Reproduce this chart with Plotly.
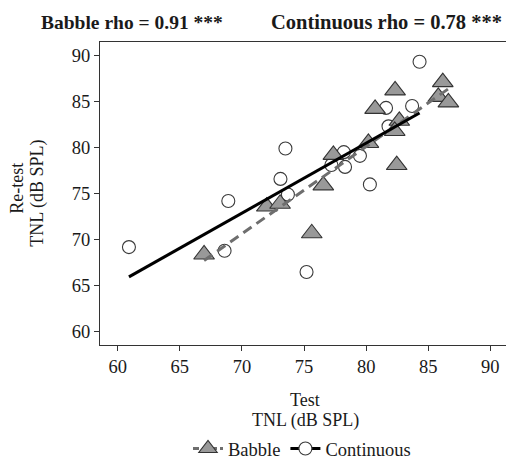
import numpy as np
import plotly.graph_objects as go

# ---- data ----
babble_test = [66.95, 72.0, 73.07, 75.62, 76.55, 77.36, 80.18, 80.72, 82.33, 82.67, 82.30, 82.46, 86.17, 85.81, 86.62]
babble_retest = [68.4, 73.6, 73.9, 70.7, 75.9, 79.2, 80.5, 84.2, 86.2, 82.9, 81.8, 78.1, 87.1, 85.5, 84.9]

cont_test = [60.9, 68.9, 68.6, 73.5, 73.1, 73.7, 75.2, 77.2, 78.2, 78.3, 79.5, 80.3, 81.6, 81.8, 83.7, 84.3]
cont_retest = [69.2, 74.2, 68.8, 79.9, 76.6, 74.9, 66.5, 78.1, 79.5, 77.9, 79.1, 76.0, 84.3, 82.3, 84.5, 89.3]

tick_vals = [60, 65, 70, 75, 80, 85, 90]
title_babble = "Babble rho = 0.91 ***"
title_cont = "Continuous rho = 0.78 ***"

FONT = "Liberation Serif"
TXT = "#1a1a1a"
AX = "#333333"

def fit_line(x, y):
    x = np.asarray(x, float); y = np.asarray(y, float)
    m, b = np.polyfit(x, y, 1)
    xs = np.array([x.min(), x.max()])
    return xs, m * xs + b

fig = go.Figure()

# points
fig.add_trace(go.Scatter(
    x=cont_test, y=cont_retest, mode="markers", showlegend=False,
    marker=dict(symbol="circle", size=13, color="white", line=dict(color="#3a3a3a", width=1.1))))
fig.add_trace(go.Scatter(
    x=babble_test, y=babble_retest, mode="markers", showlegend=False,
    marker=dict(symbol="triangle-up", size=18, color="#999999", line=dict(color="#333333", width=1.1))))

# regression lines
bx, by = fit_line(babble_test, babble_retest)
cx, cy = fit_line(cont_test, cont_retest)
fig.add_trace(go.Scatter(x=bx, y=by, mode="lines", showlegend=False,
                         line=dict(color="#6e6e6e", width=3, dash="10px,6px")))
fig.add_trace(go.Scatter(x=cx, y=cy, mode="lines", showlegend=False,
                         line=dict(color="black", width=3)))

# legend entries
fig.add_trace(go.Scatter(x=[None], y=[None], mode="lines+markers", name="Babble",
                         line=dict(color="#6e6e6e", width=3, dash="6px,3px"),
                         marker=dict(symbol="triangle-up", size=18, color="#999999",
                                     line=dict(color="#333333", width=1.1))))
fig.add_trace(go.Scatter(x=[None], y=[None], mode="lines+markers", name="Continuous",
                         line=dict(color="black", width=3),
                         marker=dict(symbol="circle", size=13, color="white",
                                     line=dict(color="#3a3a3a", width=1.1))))

axis_common = dict(
    tickvals=tick_vals, ticks="outside", ticklen=5, tickwidth=1.2, tickcolor=AX,
    showline=True, linecolor=AX, linewidth=1.3, showgrid=False, zeroline=False,
    tickfont=dict(family=FONT, size=18.5, color=TXT),
)
fig.update_xaxes(range=[58.57, 91.26], mirror=True, **axis_common)
fig.update_yaxes(range=[58.58, 91.45], **axis_common)

ann = []
ann.append(dict(text="<b>" + title_babble + "</b>", xref="paper", yref="paper",
                x=(39 - 100) / 406, y=1 + (42 - 22) / 306, xanchor="left", yanchor="middle",
                showarrow=False, font=dict(family=FONT, size=19.5, color=TXT)))
ann.append(dict(text="<b>" + title_cont + "</b>", xref="paper", yref="paper",
                x=(269 - 100) / 406, y=1 + (42 - 22) / 306, xanchor="left", yanchor="middle",
                showarrow=False, font=dict(family=FONT, size=20.5, color=TXT)))
ann.append(dict(text="Test", xref="paper", yref="paper", x=(305 - 100) / 406,
                y=(347.7 - 403) / 306, xanchor="center", yanchor="middle", showarrow=False,
                font=dict(family=FONT, size=18, color=TXT)))
ann.append(dict(text="TNL (dB SPL)", xref="paper", yref="paper", x=(305 - 100) / 406,
                y=(347.7 - 424) / 306, xanchor="center", yanchor="middle", showarrow=False,
                font=dict(family=FONT, size=18, color=TXT)))
ann.append(dict(text="Re-test", xref="paper", yref="paper", x=(17 - 100) / 406,
                y=(347.7 - 190) / 306, xanchor="center", yanchor="middle", showarrow=False,
                textangle=-90, font=dict(family=FONT, size=18, color=TXT)))
ann.append(dict(text="TNL (dB SPL)", xref="paper", yref="paper", x=(38 - 100) / 406,
                y=(347.7 - 195) / 306, xanchor="center", yanchor="middle", showarrow=False,
                textangle=-90, font=dict(family=FONT, size=18, color=TXT)))

fig.update_layout(
    width=506, height=468,
    margin=dict(l=100, r=0, t=42, b=120.3),
    paper_bgcolor="white", plot_bgcolor="white",
    font=dict(family=FONT, size=18, color=TXT),
    annotations=ann,
    legend=dict(orientation="h", x=(302 - 100) / 406, xanchor="center",
                y=(347.7 - 453) / 306, yanchor="middle",
                font=dict(family=FONT, size=18.5, color=TXT), itemwidth=30,
                bgcolor="rgba(0,0,0,0)"),
)

fig.write_html("out.html")
